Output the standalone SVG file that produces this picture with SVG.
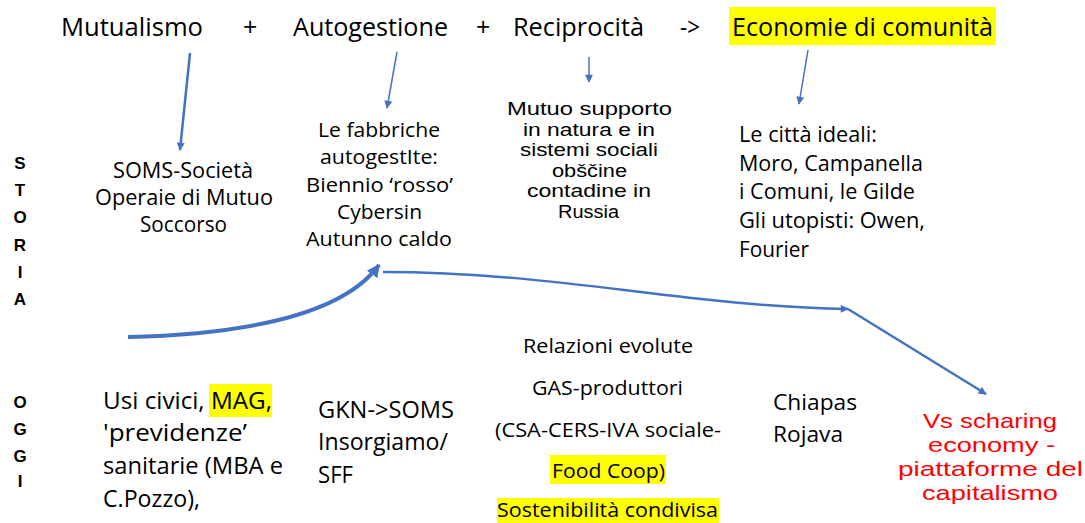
<svg xmlns="http://www.w3.org/2000/svg" width="1085" height="523" viewBox="0 0 1085 523">
  <style>
    text { font-family: "Open Sans", "Noto Sans", "Liberation Sans", sans-serif; fill: #000; }
    .t { font-size: 25px; }
    .b { font-size: 21.5px; }
    .f { font-size: 20.5px; }
    .s { font-family: "Liberation Sans", Arial, sans-serif; font-size: 18.3px; }
    .l { font-size: 23px; }
    .r { font-size: 19.5px; }
    .side { font-family: "Liberation Sans", Arial, sans-serif; font-size: 17px; font-weight: bold; text-anchor: middle; }
    .red { font-family: "Liberation Sans", Arial, sans-serif; fill: #FF0000; font-size: 21px; }
    .hl { fill: #FFFF00; }
    .c { fill: none; stroke: #4472C4; stroke-linecap: butt; }
  </style>
  <defs>
    <marker id="ah" viewBox="0 0 10 10" refX="9" refY="5" markerWidth="9" markerHeight="8" markerUnits="userSpaceOnUse" orient="auto">
      <path d="M0,0 L10,5 L0,10 z" fill="#4472C4"/>
    </marker>
    <marker id="ahb" viewBox="0 0 10 10" refX="9" refY="5" markerWidth="13" markerHeight="13" markerUnits="userSpaceOnUse" orient="auto">
      <path d="M0,0 L10,5 L0,10 z" fill="#4472C4"/>
    </marker>
  </defs>

  <g id="title">
    <text class="t" x="61" y="36" textLength="142" lengthAdjust="spacingAndGlyphs">Mutualismo</text>
    <text class="t" x="243" y="36">+</text>
    <text class="t" x="293" y="36" textLength="155" lengthAdjust="spacingAndGlyphs">Autogestione</text>
    <text class="t" x="476" y="36">+</text>
    <text class="t" x="513" y="36" textLength="131" lengthAdjust="spacingAndGlyphs">Reciprocità</text>
    <text class="t" x="680" y="36" textLength="20" lengthAdjust="spacingAndGlyphs">-&gt;</text>
    <rect class="hl" x="729" y="7" width="267" height="38"/>
    <text class="t" x="732" y="36" textLength="261" lengthAdjust="spacingAndGlyphs">Economie di comunità</text>
  </g>

  <g id="storia">
    <text class="side" x="20" y="169">S</text>
    <text class="side" x="20" y="196">T</text>
    <text class="side" x="20" y="223">O</text>
    <text class="side" x="20" y="251">R</text>
    <text class="side" x="20" y="278">I</text>
    <text class="side" x="20" y="305">A</text>
  </g>

  <g id="oggi">
    <text class="side" x="20" y="408">O</text>
    <text class="side" x="20" y="435">G</text>
    <text class="side" x="20" y="462">G</text>
    <text class="side" x="20" y="487">I</text>
  </g>

  <g id="soms">
    <text class="b" x="113" y="178" textLength="140" lengthAdjust="spacingAndGlyphs">SOMS-Società</text>
    <text class="b" x="95" y="205" textLength="178" lengthAdjust="spacingAndGlyphs">Operaie di Mutuo</text>
    <text class="b" x="140" y="232" textLength="87" lengthAdjust="spacingAndGlyphs">Soccorso</text>
  </g>

  <g id="fabbriche">
    <text class="f" x="318" y="137" textLength="122" lengthAdjust="spacingAndGlyphs">Le fabbriche</text>
    <text class="f" x="320" y="164" textLength="118" lengthAdjust="spacingAndGlyphs">autogestIte:</text>
    <text class="f" x="306" y="192" textLength="147" lengthAdjust="spacingAndGlyphs">Biennio ‘rosso’</text>
    <text class="f" x="337" y="219" textLength="85" lengthAdjust="spacingAndGlyphs">Cybersin</text>
    <text class="f" x="306" y="246" textLength="146" lengthAdjust="spacingAndGlyphs">Autunno caldo</text>
  </g>

  <g id="mutuo">
    <text class="s" x="507" y="115" textLength="165" lengthAdjust="spacingAndGlyphs">Mutuo supporto</text>
    <text class="s" x="523" y="135.6" textLength="132" lengthAdjust="spacingAndGlyphs">in natura e in</text>
    <text class="s" x="520" y="156.2" textLength="138" lengthAdjust="spacingAndGlyphs">sistemi sociali</text>
    <text class="s" x="552" y="176.8" textLength="75" lengthAdjust="spacingAndGlyphs">obščine</text>
    <text class="s" x="527" y="197.4" textLength="124" lengthAdjust="spacingAndGlyphs">contadine in</text>
    <text class="s" x="558" y="218" textLength="61" lengthAdjust="spacingAndGlyphs">Russia</text>
  </g>

  <g id="citta">
    <text class="b" x="739" y="142" textLength="138" lengthAdjust="spacingAndGlyphs">Le città ideali:</text>
    <text class="b" x="739" y="171" textLength="184" lengthAdjust="spacingAndGlyphs">Moro, Campanella</text>
    <text class="b" x="739" y="199" textLength="176" lengthAdjust="spacingAndGlyphs">i Comuni, le Gilde</text>
    <text class="b" x="739" y="228" textLength="186" lengthAdjust="spacingAndGlyphs">Gli utopisti: Owen,</text>
    <text class="b" x="739" y="257" textLength="70" lengthAdjust="spacingAndGlyphs">Fourier</text>
  </g>

  <g id="usi">
    <rect class="hl" x="209" y="384" width="63" height="33"/>
    <text class="l" x="103" y="409" textLength="169" lengthAdjust="spacingAndGlyphs">Usi civici, MAG,</text>
    <text class="l" x="103" y="441" textLength="144" lengthAdjust="spacingAndGlyphs">'previdenze’</text>
    <text class="l" x="103" y="474" textLength="180" lengthAdjust="spacingAndGlyphs">sanitarie (MBA e</text>
    <text class="l" x="103" y="507" textLength="97" lengthAdjust="spacingAndGlyphs">C.Pozzo),</text>
  </g>

  <g id="gkn">
    <text class="l" x="318" y="418" textLength="136" lengthAdjust="spacingAndGlyphs">GKN-&gt;SOMS</text>
    <text class="l" x="318" y="450" textLength="130" lengthAdjust="spacingAndGlyphs">Insorgiamo/</text>
    <text class="l" x="318" y="483" textLength="35" lengthAdjust="spacingAndGlyphs">SFF</text>
  </g>

  <g id="relazioni">
    <rect class="hl" x="550" y="455" width="116" height="29"/>
    <rect class="hl" x="497" y="498" width="222" height="25"/>
    <text class="r" x="523" y="353" textLength="170" lengthAdjust="spacingAndGlyphs">Relazioni evolute</text>
    <text class="r" x="532" y="395" textLength="151" lengthAdjust="spacingAndGlyphs">GAS-produttori</text>
    <text class="r" x="495" y="437" textLength="226" lengthAdjust="spacingAndGlyphs">(CSA-CERS-IVA sociale-</text>
    <text class="r" x="552" y="478" textLength="113" lengthAdjust="spacingAndGlyphs">Food Coop)</text>
    <text class="r" x="497" y="517" textLength="221" lengthAdjust="spacingAndGlyphs">Sostenibilità condivisa</text>
  </g>

  <g id="chiapas">
    <text class="b" x="773" y="410" textLength="84" lengthAdjust="spacingAndGlyphs">Chiapas</text>
    <text class="b" x="773" y="442" textLength="70" lengthAdjust="spacingAndGlyphs">Rojava</text>
  </g>

  <g id="sharing">
    <text class="red" x="923" y="428" textLength="134" lengthAdjust="spacingAndGlyphs">Vs scharing</text>
    <text class="red" x="928" y="452" textLength="127" lengthAdjust="spacingAndGlyphs">economy -</text>
    <text class="red" x="898" y="476" textLength="185" lengthAdjust="spacingAndGlyphs">piattaforme del</text>
    <text class="red" x="922" y="500" textLength="136" lengthAdjust="spacingAndGlyphs">capitalismo</text>
  </g>

  <g id="connectors">
    <path class="c" d="M190,53 L180,150" stroke-width="2.5" marker-end="url(#ah)"/>
    <path class="c" d="M397,52 L387,108" stroke-width="1.5" marker-end="url(#ah)"/>
    <path class="c" d="M589,57 L589,82" stroke-width="1.5" marker-end="url(#ah)"/>
    <path class="c" d="M808,50 L799,104" stroke-width="1.5" marker-end="url(#ah)"/>
    <path class="c" d="M128,337 Q330,332 379,265" stroke-width="4" marker-end="url(#ahb)"/>
    <path class="c" d="M383,272 C560,272 680,306 848,309" stroke-width="2.5" marker-end="url(#ah)"/>
    <path class="c" d="M848,309 L986,394" stroke-width="2.5" marker-end="url(#ah)"/>
  </g>
</svg>
